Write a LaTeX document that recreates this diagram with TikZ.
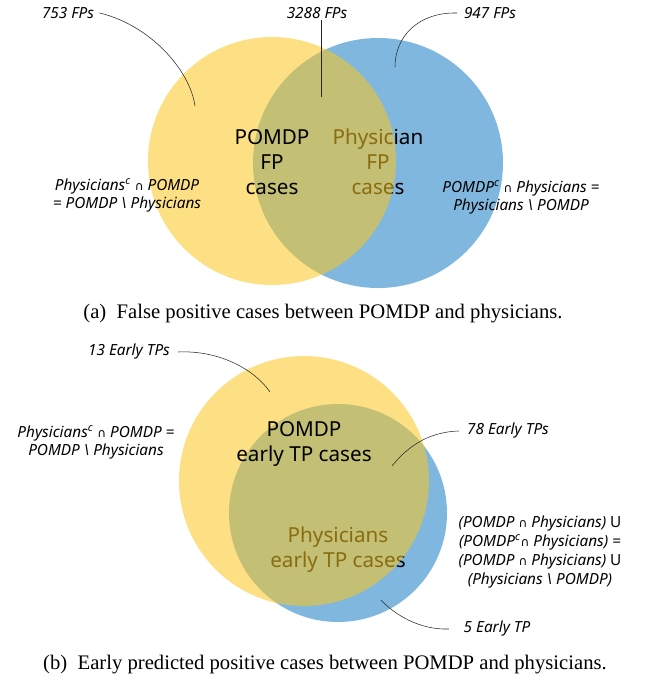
\documentclass[tikz,border=0pt]{standalone}
\usepackage{fontspec}
\setmainfont{Liberation Serif}
\newfontfamily\vennfont{Noto Sans}
\newfontfamily\symfont{DejaVu Sans}
\usetikzlibrary{positioning}
\definecolor{vennyellow}{RGB}{251,198,30}
\definecolor{vennblue}{RGB}{128,183,222}
\newcommand{\isect}{{\symfont\upshape\small ∩}}

\begin{document}
\begin{tikzpicture}[
    x=0.75pt, y=-0.75pt,
    yellowset/.style={fill=vennyellow, fill opacity=0.55},
    blueset/.style={fill=vennblue},
    bigtxt/.style={font=\vennfont\fontsize{15.5}{18.75}\selectfont, align=center, inner sep=0pt},
    lbl/.style={font=\vennfont\itshape\fontsize{11.5}{13.5}\selectfont, align=center, inner sep=1pt},
    leader/.style={thin, black!85},
    captxt/.style={font=\fontsize{15.5}{18}\selectfont, inner sep=0pt}
]
\useasboundingbox (0,0) rectangle (646,687);

% ==========================================
% PANEL (a) : False positive cases
% ==========================================
\begin{scope}
    % Sets (blue first, text under the yellow one)
    \fill[blueset] (378,163) circle (125);
    \node[bigtxt] (phys_a) at (378,162) {Physician\\FP\\cases};
    \fill[yellowset] (272,161) circle (124);
    \node[bigtxt] (pomdp_a) at (272,162) {POMDP\\FP\\cases};

    % Counts & leaders
    \node[lbl] (fp_left) at (68,13) {753 FPs};
    \coordinate (fp_left_end) at (195,106);
    \draw[leader] ([xshift=3]fp_left.east) .. controls (150,25) and (190,70) .. (fp_left_end);

    \node[lbl] (fp_mid) at (317,13) {3288 FPs};
    \coordinate (fp_mid_end) at (321,97);
    \draw[leader] (fp_mid.south -| fp_mid_end) -- (fp_mid_end);

    \node[lbl] (fp_right) at (490,13) {947 FPs};
    \coordinate (fp_right_end) at (395,67);
    \draw[leader] ([xshift=-4]fp_right.west) .. controls (420,12) and (395,35) .. (fp_right_end);

    % Set expressions
    \node[lbl] (only_pomdp_a) at (127,195) {Physicians\textsuperscript{c} \isect{} POMDP\\= POMDP \textbackslash{} Physicians};
    \node[lbl] (only_phys_a) at (521,197) {POMDP\textsuperscript{c} \isect{} Physicians =\\Physicians \textbackslash{} POMDP};

    % Subcaption
    \node[captxt] (cap_a) at (323,314) {(a)~~False positive cases between POMDP and physicians.};
\end{scope}

% ==========================================
% PANEL (b) : Early predicted positive cases
% ==========================================
\begin{scope}
    % Sets
    \fill[blueset] (338,513) circle (109);
    \node[bigtxt] (phys_b) at (338,550) {Physicians\\early TP cases};
    \fill[yellowset] (304,481) circle (125);
    \node[bigtxt] (pomdp_b) at (304,444) {POMDP\\early TP cases};

    % Counts & leaders
    \node[lbl] (tp_left) at (129,352) {13 Early TPs};
    \coordinate (tp_left_end) at (270,392);
    \draw[leader] ([xshift=5]tp_left.east) .. controls (220,350) and (255,370) .. (tp_left_end);

    \node[lbl] (tp_mid) at (508,431) {78 Early TPs};
    \coordinate (tp_mid_end) at (392,466);
    \draw[leader] ([xshift=-5]tp_mid.west) .. controls (425,432) and (405,450) .. (tp_mid_end);

    \node[lbl] (tp_right) at (497,629) {5 Early TP};
    \coordinate (tp_right_end) at (381,600);
    \draw[leader] ([xshift=-10]tp_right.west) .. controls (420,630) and (395,615) .. (tp_right_end);

    % Set expressions
    \node[lbl] (only_pomdp_b) at (96,442) {Physicians\textsuperscript{c} \isect{} POMDP =\\POMDP \textbackslash{} Physicians};
    \node[lbl, font=\vennfont\itshape\fontsize{11.5}{14.25}\selectfont] (union_b) at (540,552) {(POMDP \isect{} Physicians) {\upshape U}\\(POMDP\textsuperscript{c}\isect{} Physicians) =\\(POMDP \isect{} Physicians) {\upshape U}\\(Physicians \textbackslash{} POMDP)};

    % Subcaption
    \node[captxt] (cap_b) at (325,665) {(b)~~Early predicted positive cases between POMDP and physicians.};
\end{scope}

\end{tikzpicture}
\end{document}
